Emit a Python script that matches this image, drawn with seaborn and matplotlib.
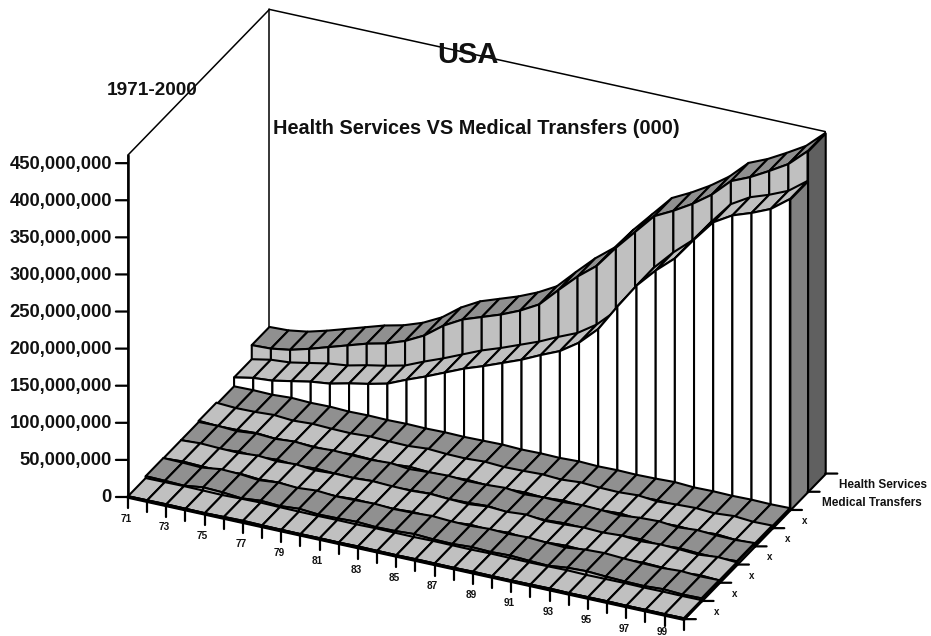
import numpy as np
import matplotlib
matplotlib.use('Agg')
import matplotlib.pyplot as plt
import seaborn as sns
from mpl_toolkits.mplot3d import proj3d
from mpl_toolkits.mplot3d.art3d import Poly3DCollection

# values in millions
years = ['71', '72', '73', '74', '75', '76', '77', '78', '79', '80',
         '81', '82', '83', '84', '85', '86', '87', '88', '89', '90',
         '91', '92', '93', '94', '95', '96', '97', '98', '99', '00']
health = [33, 34, 38, 45, 53, 61, 69, 75, 84, 97, 116, 130, 139, 148, 159,
          173, 198, 222, 242, 272, 299, 326, 339, 354, 372, 396, 407, 421, 436, 459]
medical = [14, 19, 21, 26, 31, 34, 40, 45, 51, 62, 72, 83, 94, 103, 113,
           123, 135, 146, 163, 187, 223, 257, 283, 305, 336, 365, 380, 389, 400, 419]
x1 = [1.0, 1.2, 1.5, 1.2, 0.8, 1.5, 2.0, 1.5, 1.2, 1.0, 1.2, 1.0, 1.5, 1.2, 1.0,
      1.4, 1.2, 1.0, 1.5, 1.2, 1.0, 1.2, 1.6, 1.0, 1.2, 1.4, 1.0, 1.2, 1.0, 1.2]
x2 = [3.5, 3.0, 2.0, 5.5, 4.5, 2.0, 4.5, 3.0, 5.0, 3.0, 3.5, 4.5, 3.0, 3.5, 5.0,
      3.5, 3.0, 4.5, 3.5, 4.5, 3.0, 2.0, 5.0, 6.0, 4.5, 3.5, 3.0, 4.5, 3.0, 3.5]
x3 = [3.0, 4.5, 3.5, 3.0, 5.0, 3.0, 4.5, 2.0, 3.5, 3.0, 4.5, 3.5, 3.0, 4.5, 3.0,
      2.0, 4.5, 3.0, 5.0, 2.0, 3.0, 4.5, 3.5, 5.0, 3.0, 4.5, 3.5, 2.0, 4.5, 3.0]
x4 = [3.0, 3.5, 2.0, 4.5, 3.0, 5.0, 3.0, 4.5, 3.5, 3.0, 4.5, 2.0, 3.5, 4.5, 3.0,
      3.5, 5.0, 2.0, 3.5, 3.0, 4.5, 3.5, 2.0, 4.5, 5.5, 3.0, 5.0, 3.5, 3.0, 4.5]
x5 = [4.5, 3.0, 3.5, 5.0, 3.0, 4.5, 3.5, 3.0, 4.5, 3.5, 3.0, 5.0, 3.5, 3.0, 4.5,
      3.0, 3.5, 4.5, 3.0, 5.0, 3.5, 3.0, 4.5, 2.0, 3.5, 4.5, 3.0, 5.0, 3.0, 3.5]
x6 = [2.0, 2.5, 2.0, 3.5, 2.5, 3.0, 2.0, 2.5, 2.0, 2.5, 2.0, 2.5, 2.0, 2.5, 3.0,
      2.0, 2.5, 2.0, 3.0, 2.0, 2.5, 2.0, 2.5, 3.5, 2.0, 2.5, 2.0, 2.5, 2.0, 2.5]

series_names = ['x', 'x', 'x', 'x', 'x', 'x', 'Medical Transfers', 'Health Services']
series_values = [x1, x2, x3, x4, x5, x6, medical, health]
z_ticks = [0, 50, 100, 150, 200, 250, 300, 350, 400, 450]
z_top = 461

# top / front / right end colours, back series use the same grey pairs
top_colors = ['#c0c0c0', '#909090'] * 4
front_colors = ['#ffffff', '#c0c0c0'] * 4
side_colors = ['#808080', '#606060'] * 4

sns.set_theme(style='white')
plt.rcParams['font.family'] = ['Liberation Sans', 'DejaVu Sans']
plt.rcParams['font.weight'] = 'bold'

W, H = 931, 636
fig = plt.figure(figsize=(W / 100, H / 100), dpi=100)
side = 1500
ax = fig.add_axes([(W - side) / 2 / W, (H - side) / 2 / H, side / W, side / H],
                  projection='3d', proj_type='ortho', computed_zorder=False)
ax.set_axis_off()
ax.view_init(elev=28.4, azim=-65.2)
n = len(years)
n_depth = len(series_names)
ax.set_xlim(0, n - 1, view_margin=0)
ax.set_ylim(0, n_depth, view_margin=0)
ax.set_zlim(0, z_top, view_margin=0)
aspect = np.array([611.0, 336.5, 388.0])
ax.set_box_aspect(aspect.copy())


def to_px(x, y, z):
    px, py, _ = proj3d.proj_transform(x, y, z, ax.get_proj())
    return ax.transData.transform((px, py))


# fit the box to the reference: floor corner at (128, 497), 342 px tall
fig.canvas.draw()
height = to_px(0, 0, z_top)[1] - to_px(0, 0, 0)[1]
ax.set_box_aspect(aspect.copy(), zoom=342 / height)
fig.canvas.draw()
p0 = to_px(0, 0, 0)
shift_x = (128 - p0[0]) / W
shift_y = ((H - 497) - p0[1]) / H
pos = ax.get_position(original=True)
ax.set_position([pos.x0 + shift_x, pos.y0 + shift_y, pos.width, pos.height])
fig.canvas.draw()


def label(x, y, z, s, dx=0, dy=0, **kw):
    # flat figure text placed at a projected data point, dx/dy in pixels, dy down
    p = to_px(x, y, z)
    fig.text((p[0] + dx) / W, (p[1] - dy) / H, s, fontweight='bold', color='#111111', **kw)


# back frame
frame = dict(color='black', lw=1.1, zorder=1)
ax.plot([0, 0, 0, n - 1, n - 1], [0, 0, n_depth, n_depth, n_depth],
        [0, z_top, z_top, z_top, 0], **frame)
ax.plot([0, 0], [n_depth, n_depth], [0, z_top], **frame)

# series back to front, each one: end panel, top, front
for d in range(n_depth - 1, -1, -1):
    v = series_values[d]
    base = 10 + (n_depth - d) * 5
    tops = [[(i, d, v[i]), (i + 1, d, v[i + 1]), (i + 1, d + 1, v[i + 1]), (i, d + 1, v[i])]
            for i in range(n - 1)]
    fronts = [[(i, d, 0), (i + 1, d, 0), (i + 1, d, v[i + 1]), (i, d, v[i])]
              for i in range(n - 1)]
    end = [[(n - 1, d, 0), (n - 1, d + 1, 0), (n - 1, d + 1, v[-1]), (n - 1, d, v[-1])]]
    for polys, color, z in [(end, side_colors[d], 0), (tops, top_colors[d], 1), (fronts, front_colors[d], 2)]:
        coll = Poly3DCollection(polys, facecolors=color, edgecolors='black',
                                linewidths=1.5, zorder=base + z)
        ax.add_collection3d(coll, autolim=False)

# ticks and labels
tick = dict(color='black', lw=1.6, zorder=90)
for z in z_ticks:
    ax.plot([0, -0.52], [0, -0.12], [z, z], **tick)
    label(0, 0, z, f'{z * 1000000:,}', dx=-16, dy=1, ha='right', va='center', fontsize=13.2)
ax.plot([0, n - 1], [0, 0], [0, 0], color='black', lw=2.6, zorder=90)
ax.plot([0, 0], [0, 0], [0, z_top], color='black', lw=1.8, zorder=90)
for i in range(n):
    ax.plot([i, i], [0, 0], [0, -15], **tick)
    if i % 2 == 0:
        # the last label would fall off the bottom edge
        label(i, 0, 0, years[i], dx=-2, dy=17 if i == 28 else 22, ha='center', va='center', fontsize=7.2)
for d in range(n_depth + 1):
    ax.plot([n - 1, n - 1 + 0.52], [d, d + 0.12], [0, 0], **tick)
for d, name in enumerate(series_names):
    if name == 'x':
        label(n - 1, d + 0.5, 0, name, dx=24, dy=2, ha='center', va='center', fontsize=7)
    else:
        label(n - 1, d + 0.5, 0, name, dx=23, dy=2, ha='left', va='center', fontsize=8.5)

fig.text(468 / W, 1 - 55 / H, 'USA', ha='center', va='center', fontsize=21, fontweight='bold', color='#111111')
fig.text(152 / W, 1 - 90.5 / H, '1971-2000', ha='center', va='center', fontsize=13.7, fontweight='bold', color='#111111')
fig.text(476 / W, 1 - 129 / H, 'Health Services VS Medical Transfers (000)', ha='center', va='center',
         fontsize=14.3, fontweight='bold', color='#111111')

fig.savefig('out.png', dpi=100, facecolor='white')
